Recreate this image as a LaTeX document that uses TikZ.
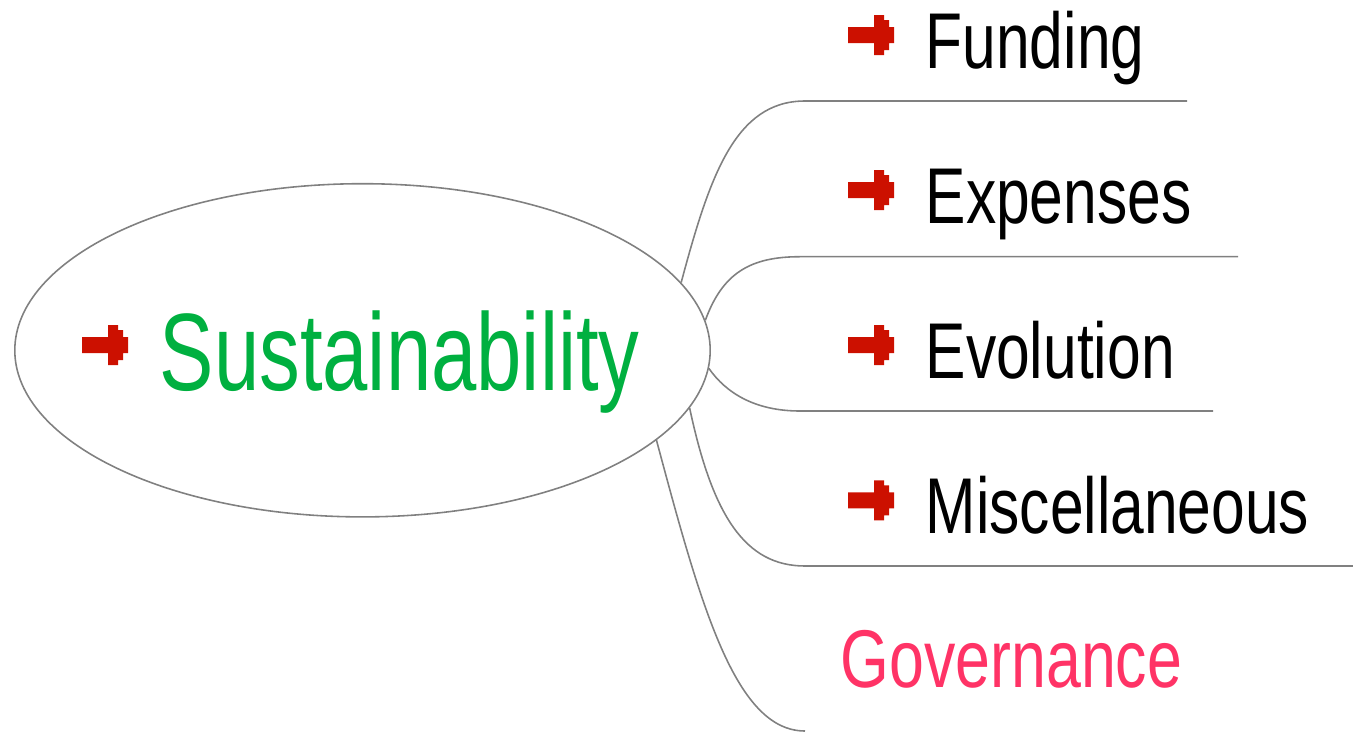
\documentclass[tikz,border=0pt]{standalone}
\usepackage{xcolor}
\usepackage{fontspec}
\setmainfont{Liberation Sans}
\newfontfamily\mapfont[FakeStretch=0.765]{Liberation Sans}
\newfontfamily\hubfont[FakeStretch=0.74]{Liberation Sans}
\usepackage{tikz}
\usetikzlibrary{positioning,shapes.geometric}
\definecolor{linegray}{RGB}{128,128,128}
\definecolor{bulletred}{RGB}{204,16,0}
\definecolor{hubgreen}{RGB}{0,176,64}
\definecolor{govpink}{RGB}{255,51,102}

\begin{document}
\begin{tikzpicture}[x=0.01cm, y=0.01cm,
        hub/.style={draw=linegray, line width=.45pt, ellipse, minimum width=6.95cm, minimum height=3.33cm, inner sep=0pt},
        item/.style={font=\mapfont\fontsize{22.5}{27}\selectfont, anchor=base west, inner sep=0pt},
        branch/.style={draw=linegray, line width=.45pt},
        pics/bullet/.style={code={
            \fill[bulletred] (0,-8) -- (26,-8) -- (26,-20) -- (36,-20) -- (36,-15) -- (41,-15) -- (41,-8) -- (46,-8)
                -- (46,8) -- (41,8) -- (41,15) -- (36,15) -- (36,20) -- (26,20) -- (26,8) -- (0,8) -- cycle;
        }}]
    \useasboundingbox (0,0) rectangle (1353,732);
    \node[hub] (hub) at (362.5,381.7) {};
    \node[item, font=\hubfont\fontsize{31.3}{36}\selectfont, text=hubgreen] (sust) at (159,341.5) {Sustainability};
    \node[item] (fund) at (925,663.7) {Funding};
    \node[item, below=1.55cm of fund.base west, anchor=base west] (exp) {Expenses};
    \node[item, below=1.55cm of exp.base west, anchor=base west] (evo) {Evolution};
    \node[item, below=1.55cm of evo.base west, anchor=base west] (misc) {Miscellaneous};
    \node[item, font=\mapfont\fontsize{23.3}{28}\selectfont, text=govpink, below=1.54cm of misc.base west, anchor=base west, xshift=-0.85cm] (gov) {Governance};
    \pic at ([shift={(-77,45.5)}]sust.base west) {bullet};
    \foreach \n in {fund,exp,evo,misc}
        \pic at ([shift={(-77,33.3)}]\n.base west) {bullet};
    \coordinate (fundA) at (805,631);
    \coordinate (fundB) at (1187,631);
    \coordinate (expA) at (800,475.3);
    \coordinate (expB) at (1238,475.3);
    \coordinate (evoA) at (800,321);
    \coordinate (evoB) at (1213,321);
    \coordinate (miscA) at (805,166);
    \coordinate (miscB) at (1353,166);
    \coordinate (govA) at (805,1);
    \draw[branch] (hub.12) .. controls +(75:110) and +(180:70) .. (fundA) -- (fundB);
    \draw[branch] (hub.5) .. controls +(70:50) and +(180:50) .. (expA) -- (expB);
    \draw[branch] (hub.-3) .. controls +(-55:30) and +(180:45) .. (evoA) -- (evoB);
    \draw[branch] (hub.-10) .. controls +(-78:110) and +(180:60) .. (miscA) -- (miscB);
    \draw[branch] (hub.-17) .. controls +(-75:170) and +(180:70) .. (govA);
\end{tikzpicture}
\end{document}
